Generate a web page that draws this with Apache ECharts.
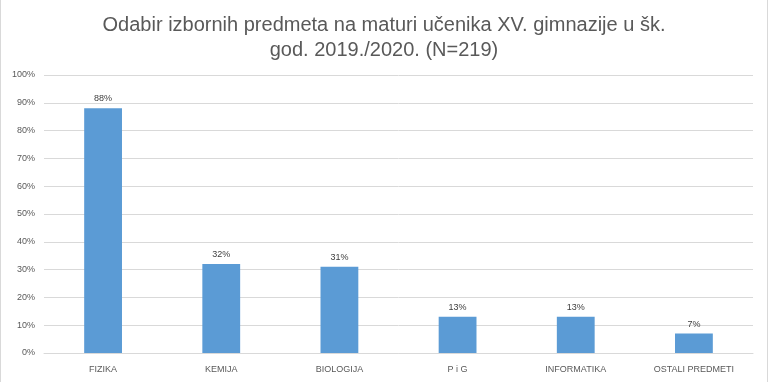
<!DOCTYPE html>
<html><head><meta charset="utf-8">
<script src="https://cdn.jsdelivr.net/npm/echarts@6/dist/echarts.min.js"></script>
<style>html,body{margin:0;padding:0;background:#fff}#c{width:768px;height:382px;box-sizing:border-box;border-left:1px solid #d9d9d9;border-right:1px solid #d9d9d9}</style>
</head><body><div id="c"></div>
<script>
const titleText = 'Odabir izbornih predmeta na maturi učenika XV. gimnazije u šk.\ngod. 2019./2020. (N=219)';
const categories = ['FIZIKA','KEMIJA','BIOLOGIJA','P i G','INFORMATIKA','OSTALI PREDMETI'];
const values = [88, 32, 31, 13, 13, 7];
const FF = "'Liberation Sans', Arial, sans-serif";
const chart = echarts.init(document.getElementById('c'));
chart.setOption({
  animation:false,
  title:{text:titleText,left:'center',top:8,textStyle:{fontFamily:FF,fontSize:20,fontWeight:'normal',color:'#595959',lineHeight:25}},
  grid:{left:43,right:14,top:75,bottom:29,containLabel:false},
  xAxis:{type:'category',data:categories,axisTick:{show:false},axisLine:{lineStyle:{color:'#d9d9d9'}},
    axisLabel:{color:'#595959',fontSize:9,fontFamily:FF,margin:12}},
  yAxis:{type:'value',min:0,max:100,interval:10,axisLabel:{formatter:'{value}%',color:'#595959',fontSize:9,fontFamily:FF,margin:9},
    splitLine:{lineStyle:{color:'#d9d9d9'}},axisLine:{show:false},axisTick:{show:false}},
  series:[{type:'bar',data:values,barWidth:'32%',itemStyle:{color:'#5b9bd5'},
    label:{show:true,position:'top',formatter:'{c}%',color:'#404040',fontSize:9,fontFamily:FF,distance:5}}]
});
</script></body></html>
